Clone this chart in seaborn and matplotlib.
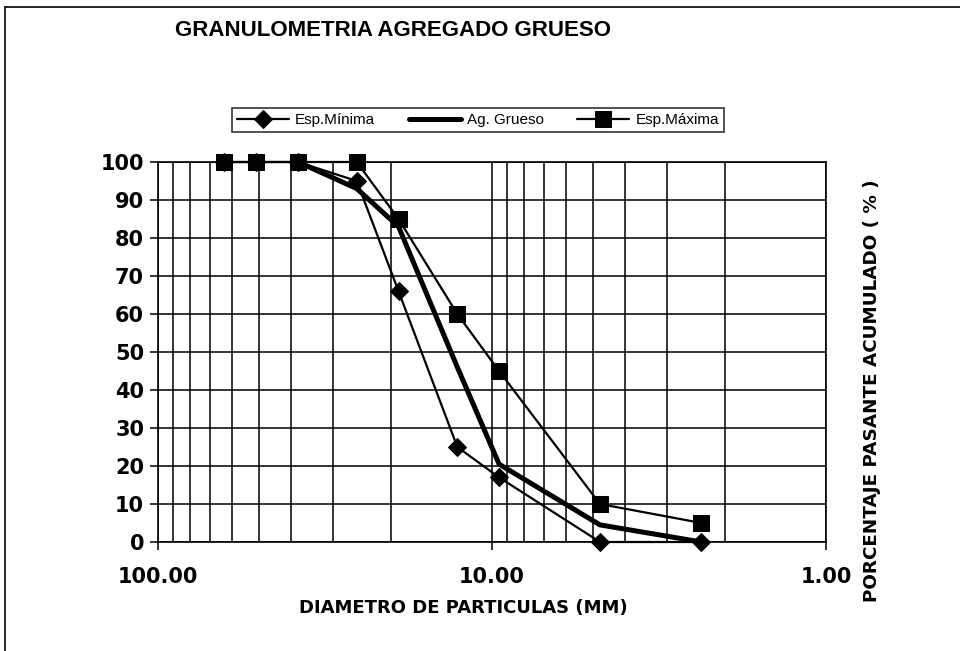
import matplotlib
matplotlib.use("Agg")
import matplotlib.pyplot as plt
from matplotlib.lines import Line2D
from matplotlib.ticker import LogLocator, FixedLocator, NullFormatter
import seaborn as sns
import pandas as pd

# ---- data ----
sieve_mm = [63.5, 50.8, 38.1, 25.4, 19.05, 12.7, 9.525, 4.75, 2.36]
esp_minima = [100, 100, 100, 95, 66, 25, 17, 0, 0]
ag_grueso_mm = [38.1, 25.4, 19.05, 12.7, 9.525, 4.75, 2.36]
ag_grueso = [100, 93, 83, 46, 20.5, 4.5, 0]
esp_maxima = [100, 100, 100, 100, 85, 60, 45, 10, 5]

title = "GRANULOMETRIA AGREGADO GRUESO"
xlabel = "DIAMETRO DE PARTICULAS (MM)"
ylabel = "PORCENTAJE PASANTE ACUMULADO ( % )"
x_ticks = [100, 10, 1]
x_ticklabels = ["100.00", "10.00", "1.00"]
y_ticks = list(range(0, 101, 10))

sns.set_style("white")
plt.rcParams["font.family"] = ["Liberation Sans", "DejaVu Sans"]
plt.rcParams["text.color"] = "black"
plt.rcParams["axes.labelcolor"] = "black"
plt.rcParams["xtick.color"] = "black"
plt.rcParams["ytick.color"] = "black"

fig = plt.figure(figsize=(9.6, 6.51), dpi=100)
ax = fig.add_axes([158 / 960, 1 - 542 / 651, (826 - 158) / 960, (542 - 162) / 651])

df_min = pd.DataFrame({"x": sieve_mm, "y": esp_minima})
df_ag = pd.DataFrame({"x": ag_grueso_mm, "y": ag_grueso})
df_max = pd.DataFrame({"x": sieve_mm, "y": esp_maxima})

sns.lineplot(data=df_min, x="x", y="y", ax=ax, sort=False, color="black",
             linewidth=1.6, marker="D", markersize=9, markeredgecolor="black",
             label="Esp.Mínima", zorder=4, clip_on=False)
sns.lineplot(data=df_ag, x="x", y="y", ax=ax, sort=False, color="black",
             linewidth=3.6, label="Ag. Grueso", zorder=5, clip_on=False)
sns.lineplot(data=df_max, x="x", y="y", ax=ax, sort=False, color="black",
             linewidth=1.6, marker="s", markersize=12, markeredgecolor="black",
             label="Esp.Máxima", zorder=6, clip_on=False)

ax.set_xscale("log")
ax.set_xlim(100, 1)
ax.set_ylim(0, 100)

ax.xaxis.set_major_locator(FixedLocator(x_ticks))
ax.set_xticklabels(x_ticklabels)
ax.xaxis.set_minor_locator(LogLocator(base=10, subs=range(2, 10)))
ax.xaxis.set_minor_formatter(NullFormatter())
ax.set_yticks(y_ticks)

ax.grid(True, which="both", axis="x", color="black", linewidth=1.1)
ax.grid(True, which="major", axis="y", color="black", linewidth=1.1)
ax.set_axisbelow(True)

ax.tick_params(axis="both", which="major", labelsize=15, direction="out",
               length=6, width=1.1, color="black", labelcolor="black", pad=4)
ax.tick_params(axis="x", which="minor", length=0)
ax.tick_params(axis="x", which="major", pad=12)
ax.tick_params(left=True, bottom=True)
for lab in ax.get_xticklabels() + ax.get_yticklabels():
    lab.set_fontfamily("DejaVu Sans")
    lab.set_fontweight("bold")

for side in ["left", "bottom", "right", "top"]:
    ax.spines[side].set_visible(True)
    ax.spines[side].set_color("black")
    ax.spines[side].set_linewidth(1.2)

ax.set_xlabel("")
ax.set_ylabel("")

fig.text(393 / 960, 1 - 30 / 651, title, ha="center", va="center",
         fontsize=16, fontweight="bold", color="black")
fig.text(463 / 960, 1 - 608 / 651, xlabel, ha="center", va="center",
         fontsize=13, fontweight="bold", family="DejaVu Sans", color="black")
fig.text(872 / 960, 1 - 391 / 651, ylabel, ha="center", va="center",
         rotation=90, fontsize=13.2, fontweight="bold", family="DejaVu Sans",
         color="black")

leg = ax.legend(loc="center", bbox_to_anchor=(478 / 960, 1 - 120 / 651),
                bbox_transform=fig.transFigure, ncol=3, frameon=True,
                fancybox=False, edgecolor="black", fontsize=11,
                handlelength=3.4, columnspacing=2.2, handletextpad=0.4,
                borderpad=0.35)
leg.get_frame().set_linewidth(1.2)
for t in leg.get_texts():
    t.set_color("black")

# outer page frame
fig.add_artist(Line2D([5 / 960, 1], [1 - 7 / 651, 1 - 7 / 651],
                      transform=fig.transFigure, color="black", linewidth=1.2))
fig.add_artist(Line2D([5 / 960, 5 / 960], [0, 1 - 7 / 651],
                      transform=fig.transFigure, color="black", linewidth=1.2))

fig.savefig("out.png", dpi=100)
